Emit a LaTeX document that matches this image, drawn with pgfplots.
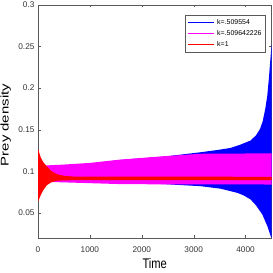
\documentclass[border=0pt]{standalone}
\usepackage{fontspec}
\setmainfont{Liberation Sans}
\usepackage{pgfplots}
\pgfplotsset{compat=1.18}
\definecolor{mblue}{rgb}{0,0,1}
\definecolor{mmag}{rgb}{1,0,1}
\definecolor{mred}{rgb}{1,0,0}
\definecolor{axgray}{rgb}{0.35,0.35,0.35}
\begin{document}
\begin{tikzpicture}
\begin{axis}[
  name=ax,
  scale only axis,
  width=233.5bp, height=232.7bp,
  xmin=0, xmax=4500, ymin=0.02, ymax=0.3,
  xtick={0,1000,2000,3000,4000},
  ytick={0.05,0.1,0.15,0.2,0.25,0.3},
  tick align=inside,
  major tick length=2.5bp,
  axis line style={axgray},
  tick style={axgray},
  /pgf/number format/assume math mode=true,
  /pgf/number format/1000 sep={},
  yticklabel style={/pgf/number format/fixed,/pgf/number format/precision=2,font=\fontsize{8.3}{9}\selectfont, text=black!80},
  xticklabel style={font=\fontsize{8.3}{9}\selectfont, text=black!80, anchor=base, yshift=-14.5bp},
  xlabel={\scalebox{0.8}[1]{Time}}, ylabel={\scalebox{1}[0.75]{Prey density}},
  xlabel style={font=\fontsize{14}{16}\selectfont, at={(rel axis cs:0.5,0)}, anchor=base, yshift=-31bp},
  ylabel style={font=\fontsize{15}{17}\selectfont, at={(rel axis cs:0,0.484)}, anchor=base, yshift=29.4bp},
  legend style={at={(rel axis cs:0.9756,0.958)}, anchor=north east, font=\fontsize{7}{8}\selectfont, draw=axgray, row sep=0.4bp, inner xsep=2bp, inner ysep=2.5bp, cells={anchor=west}},
  legend image code/.code={\draw[#1] (0bp,0bp) -- (26bp,0bp);},
]
% k=.509554 (blue envelope)
\addplot[fill=mblue, draw=none, forget plot] coordinates {
 (0,0.105) (1000,0.109) (1585,0.1135) (2415,0.1175) (3130,0.1228) (3453,0.1255) (3710,0.128) (3903,0.132) (4097,0.137) (4200,0.143) (4280,0.151) (4330,0.160) (4380,0.175) (4419,0.191) (4450,0.212) (4480,0.236) (4500,0.252)
 (4500,0.020) (4483,0.022) (4419,0.034) (4323,0.048) (4200,0.059) (4097,0.066) (3960,0.071) (3839,0.074) (3517,0.079) (3130,0.082) (2415,0.0845) (1000,0.088) (0,0.089)
} -- cycle;
% k=.509642226 (magenta envelope)
\addplot[fill=mmag, draw=none, forget plot] coordinates {
 (0,0.1065) (500,0.108) (1000,0.110) (1585,0.114) (2415,0.118) (3130,0.121) (4500,0.1215)
 (4500,0.084) (2415,0.0842) (1585,0.0845) (800,0.086) (0,0.0875)
} -- cycle;
% k=1 (red envelope)
\addplot[fill=mred, draw=none, forget plot] coordinates {
 (0,0.127) (25,0.122) (50,0.117) (100,0.111) (168,0.106) (250,0.1005) (361,0.0965) (500,0.0945) (700,0.0935) (4500,0.0933)
 (4500,0.0892) (700,0.0892) (500,0.089) (361,0.0885) (250,0.0865) (168,0.083) (100,0.077) (50,0.071) (25,0.067) (0,0.063)
} -- cycle;
\addlegendimage{draw=mblue, line width=1.5pt}
\addlegendentry{k=.509554}
\addlegendimage{draw=mmag, line width=1.6pt}
\addlegendentry{k=.509642226\hspace{11bp}}
\addlegendimage{draw=mred, line width=1.5pt}
\addlegendentry{k=1}
\end{axis}
\pgfresetboundingbox
\path[use as bounding box] ([xshift=-38bp,yshift=-35.3bp]ax.south west) rectangle ([xshift=1.3bp,yshift=5bp]ax.north east);
\end{tikzpicture}
\end{document}
